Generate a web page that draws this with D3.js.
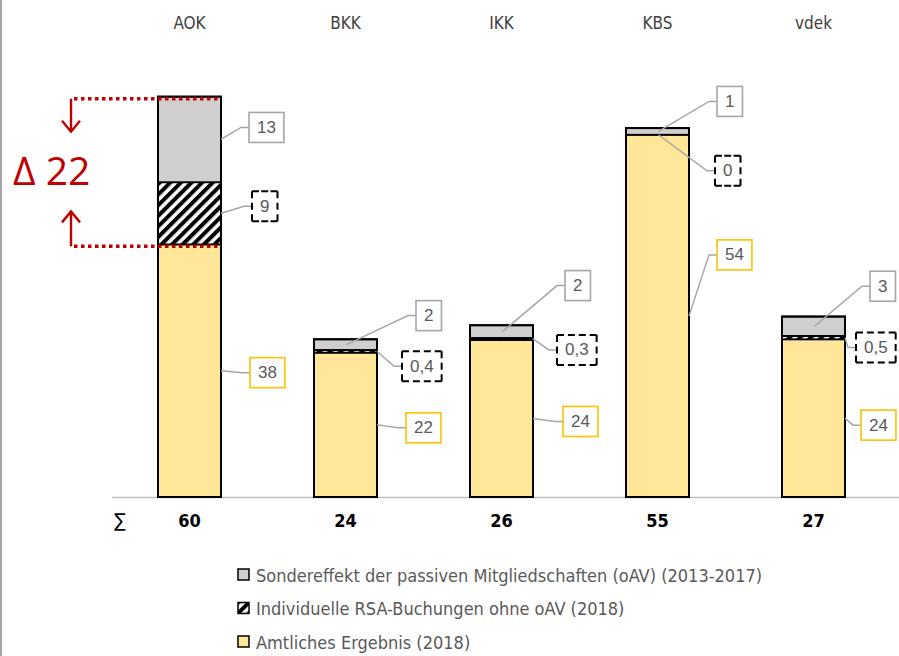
<!DOCTYPE html>
<html lang="de">
<head>
<meta charset="UTF-8">
<title>Krankenkassen Ergebnis</title>
<script src="https://d3js.org/d3.v7.min.js"></script>
<style>
  body { margin: 0; background: #fff; }
  svg { display: block; }
  .narrow { font-family: "Liberation Sans Narrow", "DejaVu Sans Condensed", sans-serif; }
  .lbl { font-family: "Liberation Sans", Arial, sans-serif; font-size: 17px; fill: #595959; }
</style>
</head>
<body>
<div id="chart"></div>
<script>
// data
const categories = ["AOK", "BKK", "IKK", "KBS", "vdek"];
const amtlich = [37.8, 21.6, 23.5, 54.2, 23.6];      // Amtliches Ergebnis (2018)
const individuell = [9.3, 0.4, 0.3, 0, 0.5];          // Individuelle RSA-Buchungen ohne oAV (2018)
const sondereffekt = [12.8, 1.6, 1.9, 1.0, 2.9];     // Sondereffekt passive Mitgliedschaften
const legendLabels = [
  "Sondereffekt der passiven Mitgliedschaften (oAV) (2013-2017)",
  "Individuelle RSA-Buchungen ohne oAV (2018)",
  "Amtliches Ergebnis (2018)"
];

// label box placement: [dx from bar right, dy from segment middle, anchor]
const labelLayout = {
  amtlich:      [[29, 2, "r"], [29, 3, "r"], [30, 3, "r"], [28, -61, "r"], [16, 7, "r"]],
  individuell:  [[31, -7, "r"], [25, 15, "r"], [24, 11, "r"], [26, 36, "c"], [11, 10, "r"]],
  sondereffekt: [[28, -12, "r"], [39, -29, "c"], [32, -46, "c"], [28, -30, "c"], [25, -40, "c"]]
};

const W = 899, H = 656;
const yellow = "#FFE699", gray = "#D0CECE";

const svg = d3.select("#chart").append("svg")
  .attr("width", W).attr("height", H);

const defs = svg.append("defs");
const pat = defs.append("pattern")
  .attr("id", "hatch")
  .attr("patternUnits", "userSpaceOnUse")
  .attr("width", 7.5).attr("height", 7.5)
  .attr("patternTransform", "rotate(45)");
pat.append("rect").attr("width", 7.5).attr("height", 7.5).attr("fill", "#fff");
pat.append("rect").attr("width", 4).attr("height", 7.5).attr("fill", "#000");

// left border of the slide
svg.append("line")
  .attr("x1", 1).attr("x2", 1).attr("y1", 0).attr("y2", H)
  .attr("stroke", "#A6A6A6").attr("stroke-width", 2);

const x = d3.scaleBand()
  .domain(categories)
  .range([111.5, 891.5])
  .paddingInner(0.596)
  .paddingOuter(0.298);

const y = d3.scaleLinear().domain([0, 60]).range([497, 96]);

const fmt = v => (v > 0 && v < 1) ? v.toFixed(1).replace(".", ",") : String(Math.round(v));

// stacked segments
const series = [
  { key: "amtlich", values: amtlich, fill: yellow, box: "#FFC000", dash: false },
  { key: "individuell", values: individuell, fill: "url(#hatch)", box: "#000", dash: true },
  { key: "sondereffekt", values: sondereffekt, fill: gray, box: "#A6A6A6", dash: false }
];

const stackData = categories.map((c, i) => {
  const row = { cat: c };
  series.forEach(s => row[s.key] = s.values[i]);
  return row;
});
const stacked = d3.stack().keys(series.map(s => s.key))(stackData);

// baseline
svg.append("line")
  .attr("x1", 112).attr("x2", W).attr("y1", y(0) + 0.5).attr("y2", y(0) + 0.5)
  .attr("stroke", "#BFBFBF").attr("stroke-width", 1.5);

const gBars = svg.append("g");
stacked.forEach((layer, si) => {
  gBars.selectAll(null).data(layer).enter().append("rect")
    .attr("x", d => x(d.data.cat))
    .attr("width", x.bandwidth())
    .attr("y", d => y(d[1]))
    .attr("height", d => y(d[0]) - y(d[1]))
    .attr("fill", series[si].fill)
    .attr("stroke", "#000")
    .attr("stroke-width", d => (d[1] - d[0]) > 0 ? 1.8 : 0);
});
// outer outline per bar
gBars.selectAll(null).data(stackData).enter().append("rect")
  .attr("x", d => x(d.cat))
  .attr("width", x.bandwidth())
  .attr("y", d => y(d.amtlich + d.individuell + d.sondereffekt))
  .attr("height", d => y(0) - y(d.amtlich + d.individuell + d.sondereffekt))
  .attr("fill", "none").attr("stroke", "#000").attr("stroke-width", 2);

// data labels with leader lines
const gLbl = svg.append("g");
stacked.forEach((layer, si) => {
  const s = series[si];
  layer.forEach((d, i) => {
    const [dx, dy, anchor] = labelLayout[s.key][i];
    const right = x(d.data.cat) + x.bandwidth();
    const mid = y((d[0] + d[1]) / 2);
    const ax = anchor === "c" ? x(d.data.cat) + x.bandwidth() / 2 + 1 : right;
    const bx = right + dx, cy = mid + dy;

    gLbl.append("path")
      .attr("d", `M${ax},${mid}L${bx - 8},${cy}L${bx},${cy}`)
      .attr("fill", "none").attr("stroke", "#A6A6A6").attr("stroke-width", 1.5);

    const t = gLbl.append("text").attr("class", "lbl")
      .attr("y", cy).attr("dominant-baseline", "central")
      .text(fmt(s.values[i]));
    const tw = t.node().getComputedTextLength();
    const bw = tw + 16, bh = 30;
    t.attr("x", bx + bw / 2).attr("text-anchor", "middle");

    if (!s.dash) {
      gLbl.insert("rect", () => t.node())
        .attr("x", bx).attr("y", cy - bh / 2).attr("width", bw).attr("height", bh)
        .attr("fill", "#fff").attr("stroke", s.box).attr("stroke-width", 1.6);
    } else {
      gLbl.insert("rect", () => t.node())
        .attr("x", bx).attr("y", cy - bh / 2).attr("width", bw).attr("height", bh)
        .attr("fill", "#fff");
      // dashed frame with dashes on the corners
      const sides = [
        [bx, cy - bh / 2, bx + bw, cy - bh / 2],
        [bx + bw, cy - bh / 2, bx + bw, cy + bh / 2],
        [bx + bw, cy + bh / 2, bx, cy + bh / 2],
        [bx, cy + bh / 2, bx, cy - bh / 2]
      ];
      sides.forEach(([x1, y1, x2, y2]) => {
        const L = Math.hypot(x2 - x1, y2 - y1);
        const dl = 7;
        const n = Math.max(2, Math.round((L + 5) / (dl + 5)));
        const gap = (L - n * dl) / (n - 1);
        gLbl.append("line")
          .attr("x1", x1).attr("y1", y1).attr("x2", x2).attr("y2", y2)
          .attr("stroke", "#000").attr("stroke-width", 2)
          .attr("stroke-dasharray", `${dl} ${gap}`);
      });
    }
  });
});

// category labels on top
svg.append("g").selectAll("text").data(categories).enter().append("text")
  .attr("class", "narrow")
  .attr("x", d => x(d) + x.bandwidth() / 2)
  .attr("y", 29)
  .attr("text-anchor", "middle")
  .attr("font-size", 17)
  .attr("fill", "#404040")
  .text(d => d);

// sums row
svg.append("text").attr("class", "narrow")
  .attr("x", 120).attr("y", 527).attr("text-anchor", "middle")
  .attr("font-size", 19).attr("fill", "#000").text("∑");
svg.append("g").selectAll("text").data(stackData).enter().append("text")
  .attr("class", "narrow")
  .attr("x", d => x(d.cat) + x.bandwidth() / 2)
  .attr("y", 527)
  .attr("text-anchor", "middle")
  .attr("font-size", 18).attr("font-weight", "bold").attr("fill", "#000")
  .text(d => Math.round(d.amtlich + d.individuell + d.sondereffekt));

// delta annotation
const red = "#C00000";
const yTop = y(amtlich[0] + individuell[0] + sondereffekt[0]);
const yLow = y(amtlich[0]);
const xEnd = x(categories[0]) + x.bandwidth();
[yTop, yLow].forEach(yy => {
  svg.append("line")
    .attr("x1", 74).attr("x2", xEnd).attr("y1", yy + 2).attr("y2", yy + 2)
    .attr("stroke", red).attr("stroke-width", 3.5).attr("stroke-dasharray", "3.5 3.5");
});
const arrow = (y1, y2) => {
  const dir = Math.sign(y2 - y1);
  svg.append("path")
    .attr("d", `M71,${y1}L71,${y2}M62,${y2 - dir * 11}L71,${y2}L80,${y2 - dir * 11}`)
    .attr("fill", "none").attr("stroke", red).attr("stroke-width", 2.4);
};
arrow(yTop + 2, yTop + 35);
arrow(yLow + 2, yLow - 33);
svg.append("text")
  .attr("x", 13).attr("y", (yTop + yLow) / 2 + 14)
  .attr("font-family", "'Open Sans', sans-serif")
  .attr("font-size", 39).attr("fill", red)
  .text("Δ " + Math.round(individuell[0] + sondereffekt[0]));

// legend
const legFills = [gray, "url(#hatch)", yellow];
const leg = svg.append("g");
legendLabels.forEach((txt, i) => {
  const cy = 575 + i * 33.5;
  leg.append("rect")
    .attr("x", 238).attr("y", cy - 6).attr("width", 11).attr("height", 11)
    .attr("fill", legFills[i]).attr("stroke", "#000").attr("stroke-width", 1.5);
  leg.append("text").attr("class", "narrow")
    .attr("x", 256).attr("y", cy).attr("dominant-baseline", "central")
    .attr("font-size", 18).attr("fill", "#595959")
    .text(txt);
});
</script>
</body>
</html>
